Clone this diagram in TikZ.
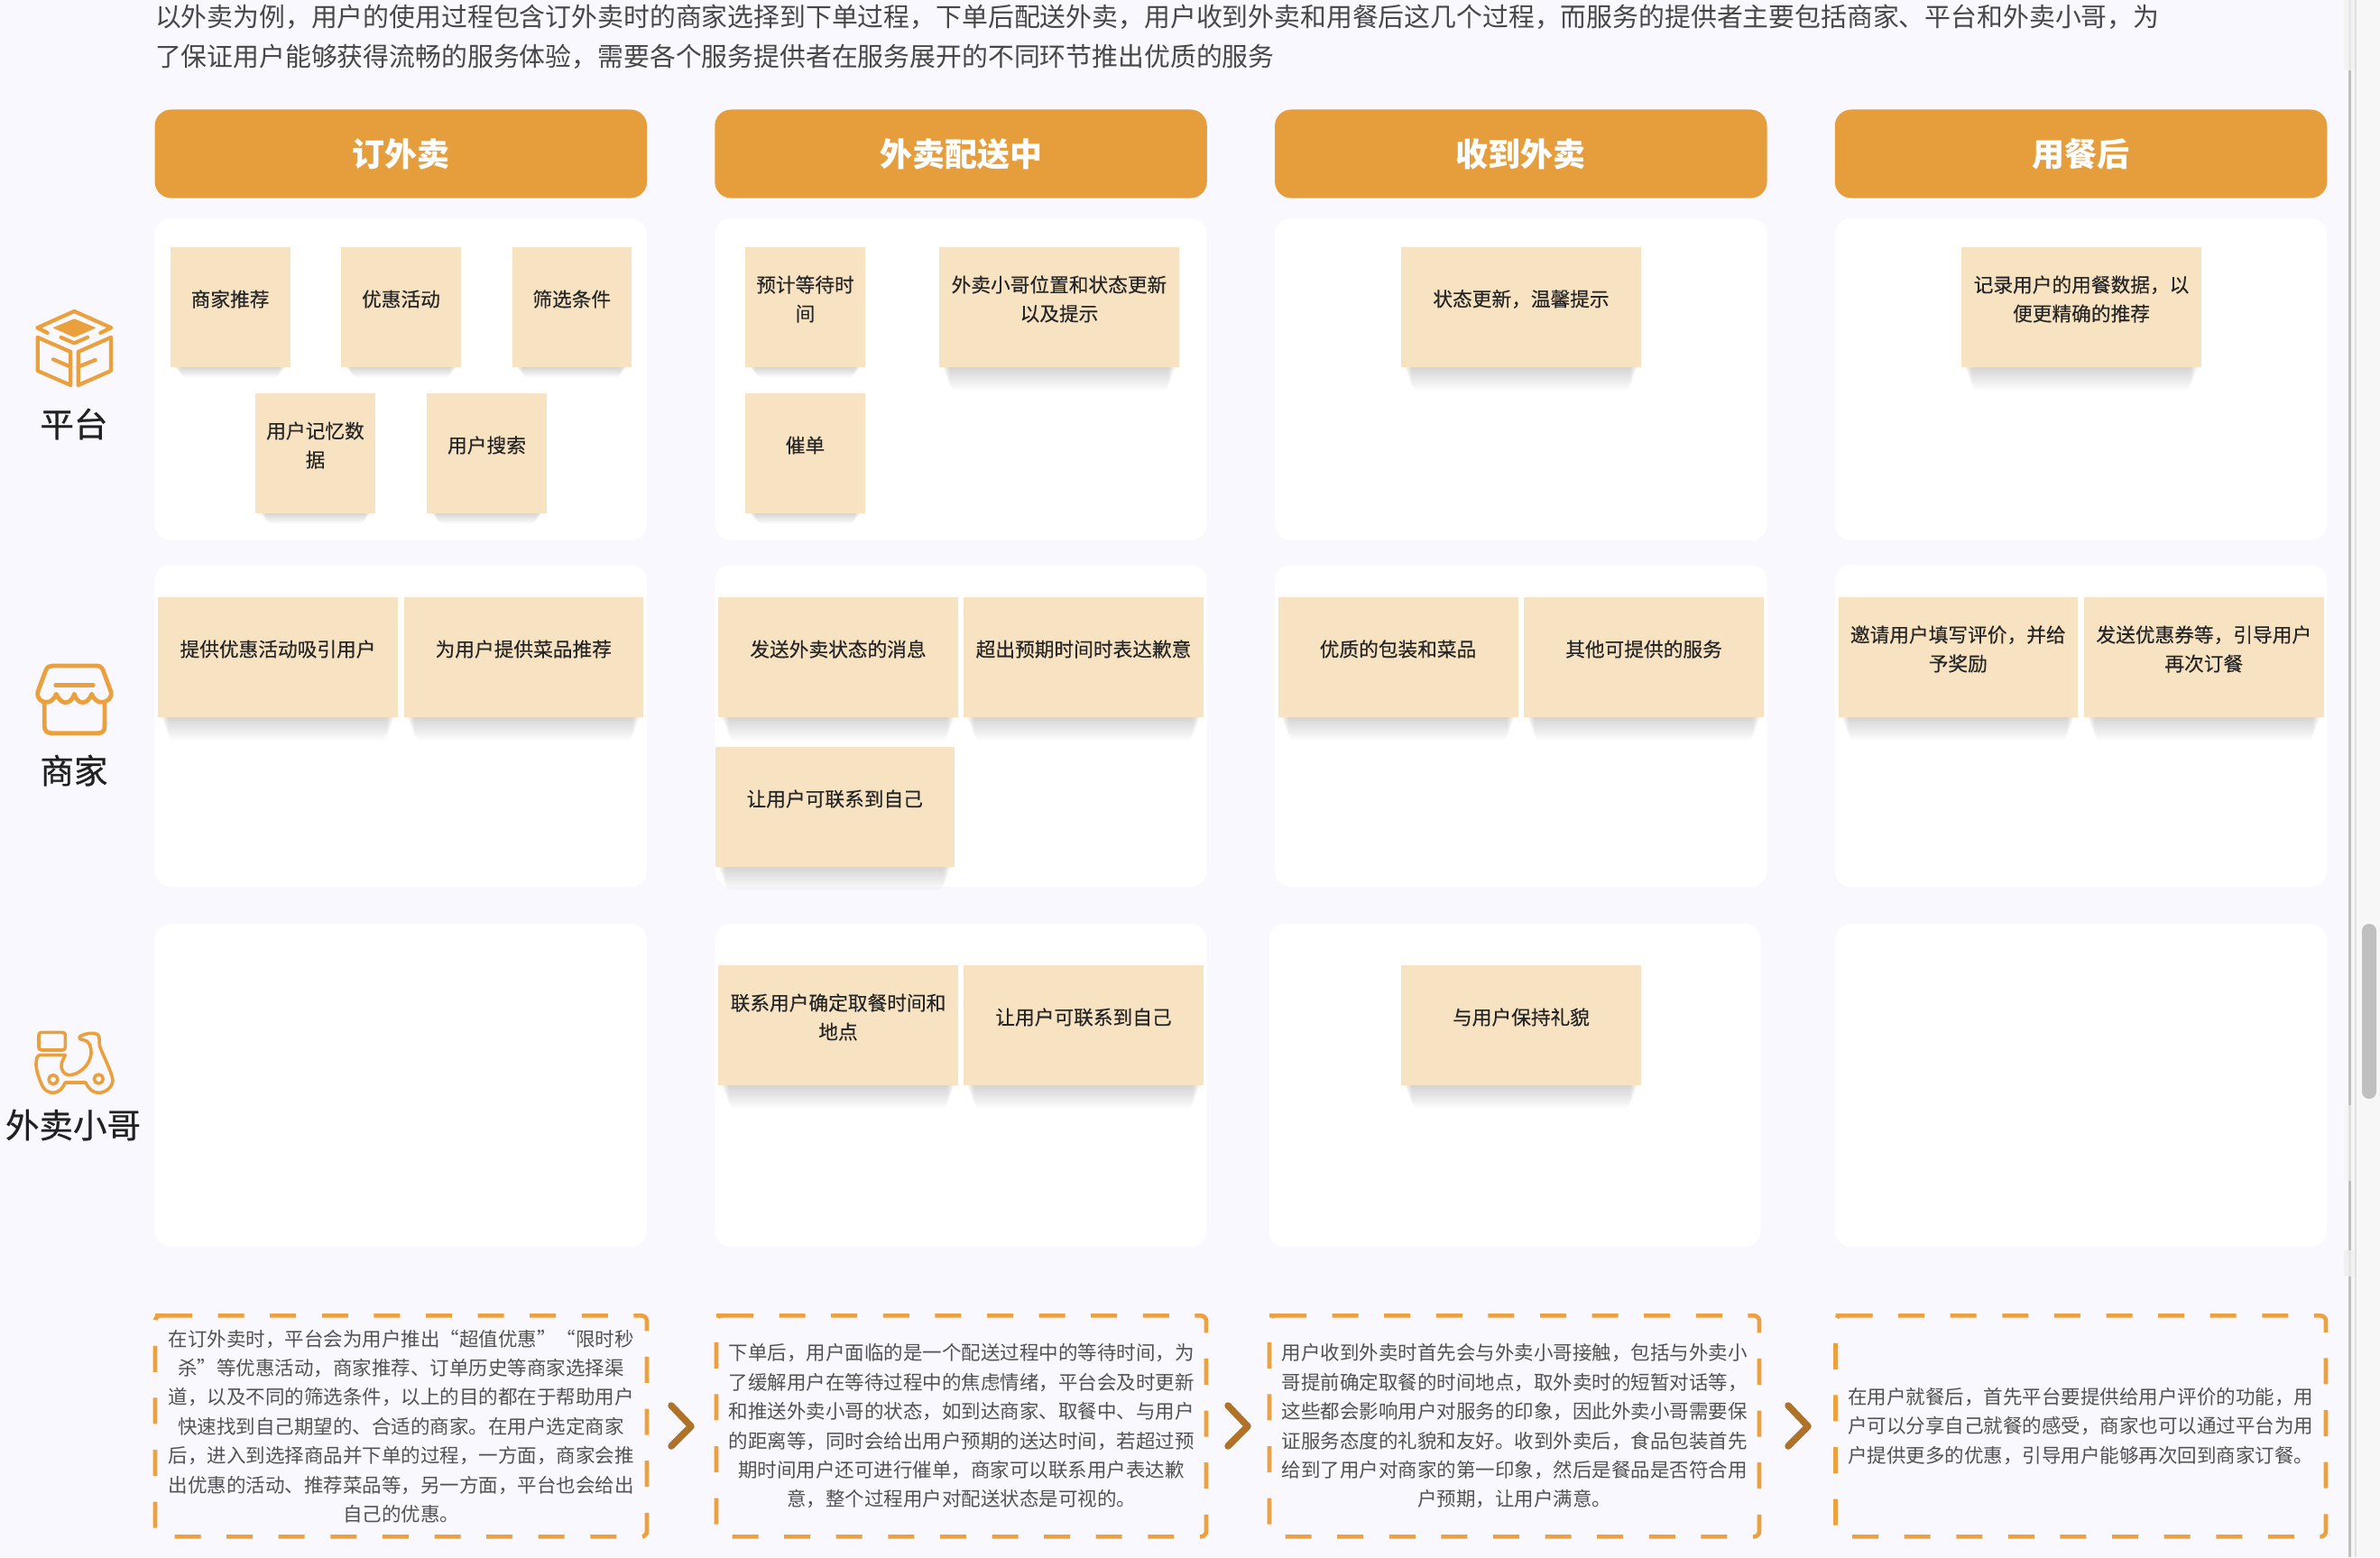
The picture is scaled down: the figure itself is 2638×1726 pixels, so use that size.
\documentclass[tikz,border=0pt]{standalone}
\usepackage{fontspec}
\setmainfont{Noto Sans CJK SC}
\newfontfamily\stkfont{Noto Sans CJK SC}[FakeBold=0.25]
\newfontfamily\lblfont{Noto Sans CJK SC}[FakeBold=0.6]
\usetikzlibrary{calc}
\def\fc{\char"FF0C\relax}
\definecolor{pagebg}{HTML}{F9F8FF}
\definecolor{headbg}{HTML}{E69E3C}
\definecolor{dashc}{HTML}{ECA140}
\definecolor{stickbg}{HTML}{F7E2C2}
\definecolor{chev}{HTML}{AE7329}
\definecolor{icono}{HTML}{EBA03E}
\tikzset{
  plain/.style={inner sep=0pt,outer sep=0pt},
  header/.style={plain,fill=headbg,rounded corners=18pt,text=white,font=\fontsize{36}{40}\selectfont\bfseries},
  panel/.style={plain,fill=white,rounded corners=18pt},
  sticky/.style={plain,fill=stickbg},
  sticktext/.style={plain,align=center,text=black!85,font=\fontsize{21.7}{32}\selectfont\stkfont},
  desc/.style={plain,align=center,text=black!68,font=\fontsize{21.5}{32.4}\selectfont},
  intro/.style={plain,anchor=base west,text=black!72,font=\fontsize{28.85}{40}\selectfont},
  rowlabel/.style={plain,text=black!87,font=\fontsize{37.5}{42}\selectfont\lblfont},
  dashbox/.style={draw=dashc,line width=4.6pt,rounded corners=6pt,dash pattern=on 29pt off 28.6pt},
  chevron/.style={draw=chev,line width=7.5pt,line cap=round,line join=round},
  iconline/.style={draw=icono,line cap=round,line join=round,fill=none},
}
% panel: name, x0, x1, y0, y1
\newcommand{\boxat}[6]{\node[#6,minimum width={(#3-#2)*1pt},minimum height={(#5-#4)*1pt}] (#1) at ({(#2+#3)/2},{(#4+#5)/2}) {};}
% sticky: name, x0, x1, y0, y1, shadow depth, text
\newcommand{\stk}[7]{%
  \foreach \k in {1,...,14}{\fill[black,opacity=.011,rounded corners=7pt] ({#2+2+\k*0.7},{#5-8}) rectangle ({#3-2-\k*0.7},{#5+#6*\k/14});}
  \boxat{#1}{#2}{#3}{#4}{#5}{sticky}
  \node[sticktext] (#1t) at ([yshift=9pt]#1.center) {#7};
}
% dashed description: name, x0, x1, text
\newcommand{\descbox}[4]{%
  \draw[dashbox] ({#2+6},1458.3) -- (#3,1458.3) -- (#3,1703.3) -- (#2,1703.3) -- (#2,1458.3) -- cycle;
  \node[desc] (#1) at ({(#2+#3)/2},1581) {#4};
}
\begin{document}
\begin{tikzpicture}[x=1pt,y=-1pt]
\useasboundingbox (0,0) rectangle (2638,1726);
\fill[pagebg] (0,0) rectangle (2598,1726);
% window edge and scroll bar
\fill[pagebg] (2598,0) rectangle (2603,1726);
\fill[black!3] (2611,0) rectangle (2638,1726);
\fill[white!96!black] (2606,0) rectangle (2610,1726);
\fill[black!25] (2603,0) rectangle (2606,1726);
\fill[black!12] (2610,0) rectangle (2612,1726);
\fill[black!5,opacity=.8] (2598,0) rectangle (2610,78);
\fill[black!4,opacity=.6] (2598,1225) rectangle (2610,1309);
\fill[black!6,opacity=.8] (2598,1386) rectangle (2610,1415);
\fill[black!25,rounded corners=8pt] (2618,1024) rectangle (2634,1218);
% intro
\node[intro] (intro1) at (172,29.5) {以外卖为例\fc 用户的使用过程包含订外卖时的商家选择到下单过程\fc 下单后配送外卖\fc 用户收到外卖和用餐后这几个过程\fc 而服务的提供者主要包括商家、平台和外卖小哥\fc 为};
\node[intro] (intro2) at (172,73.5) {了保证用户能够获得流畅的服务体验\fc 需要各个服务提供者在服务展开的不同环节推出优质的服务};
% headers
\node[header,minimum width=545.5pt,minimum height=98pt] (h1) at (444.3,170.5) {订外卖};
\node[header,minimum width=545.5pt,minimum height=98pt] (h2) at (1065,170.5) {外卖配送中};
\node[header,minimum width=545.5pt,minimum height=98pt] (h3) at (1685.8,170.5) {收到外卖};
\node[header,minimum width=545.5pt,minimum height=98pt] (h4) at (2306.5,170.5) {用餐后};
% panels
\boxat{p11}{171.5}{717}{242}{599}{panel}
\boxat{p12}{792.5}{1337.5}{242}{599}{panel}
\boxat{p13}{1413}{1958.5}{242}{599}{panel}
\boxat{p14}{2034}{2579}{242}{599}{panel}
\boxat{p21}{171.5}{717}{626}{983}{panel}
\boxat{p22}{792.5}{1337.5}{626}{983}{panel}
\boxat{p23}{1413}{1958.5}{626}{983}{panel}
\boxat{p24}{2034}{2579}{626}{983}{panel}
\boxat{p31}{171.5}{717}{1024}{1382}{panel}
\boxat{p32}{792.5}{1337.5}{1024}{1382}{panel}
\boxat{p33}{1406.5}{1951.5}{1024}{1382}{panel}
\boxat{p34}{2034}{2579}{1024}{1382}{panel}
% row 1
\stk{a1}{188.7}{321.5}{274}{407}{12}{商家推荐}
\stk{a2}{378}{511}{274}{407}{12}{优惠活动}
\stk{a3}{567.5}{700}{274}{407}{12}{筛选条件}
\stk{a4}{283}{416}{436}{569}{12}{用户记忆数\\据}
\stk{a5}{473}{606}{436}{569}{12}{用户搜索}
\stk{b1}{826}{959}{274}{407}{12}{预计等待时\\间}
\stk{b2}{1041}{1307}{274}{407}{26}{外卖小哥位置和状态更新\\以及提示}
\stk{b3}{826}{959}{436}{569}{12}{催单}
\stk{c1}{1553}{1819}{274}{407}{26}{状态更新\fc 温馨提示}
\stk{d1}{2174}{2440}{274}{407}{26}{记录用户的用餐数据\fc 以\\便更精确的推荐}
% row 2
\stk{e1}{175}{441}{662}{795}{26}{提供优惠活动吸引用户}
\stk{e2}{447.5}{713}{662}{795}{26}{为用户提供菜品推荐}
\stk{f1}{796}{1062}{662}{795}{26}{发送外卖状态的消息}
\stk{f2}{1068}{1334}{662}{795}{26}{超出预期时间时表达歉意}
\stk{f3}{792.5}{1058}{828}{961}{26}{让用户可联系到自己}
\stk{g1}{1416.5}{1682.5}{662}{795}{26}{优质的包装和菜品}
\stk{g2}{1689}{1955}{662}{795}{26}{其他可提供的服务}
\stk{k1}{2037.5}{2303}{662}{795}{26}{邀请用户填写评价\fc 并给\\予奖励}
\stk{k2}{2310}{2575.5}{662}{795}{26}{发送优惠券等\fc 引导用户\\再次订餐}
% row 3
\stk{m1}{796}{1062}{1070}{1203}{26}{联系用户确定取餐时间和\\地点}
\stk{m2}{1068}{1334}{1070}{1203}{26}{让用户可联系到自己}
\stk{n1}{1553}{1819}{1070}{1203}{26}{与用户保持礼貌}
% descriptions
\descbox{t1}{172}{717}{在订外卖时\fc 平台会为用户推出“超值优惠”“限时秒\\杀”等优惠活动\fc 商家推荐、订单历史等商家选择渠\\道\fc 以及不同的筛选条件\fc 以上的目的都在于帮助用户\\快速找到自己期望的、合适的商家。在用户选定商家\\后\fc 进入到选择商品并下单的过程\fc 一方面\fc 商家会推\\出优惠的活动、推荐菜品等\fc 另一方面\fc 平台也会给出\\自己的优惠。}
\descbox{t2}{794}{1337}{下单后\fc 用户面临的是一个配送过程中的等待时间\fc 为\\了缓解用户在等待过程中的焦虑情绪\fc 平台会及时更新\\和推送外卖小哥的状态\fc 如到达商家、取餐中、与用户\\的距离等\fc 同时会给出用户预期的送达时间\fc 若超过预\\期时间用户还可进行催单\fc 商家可以联系用户表达歉\\意\fc 整个过程用户对配送状态是可视的。}
\descbox{t3}{1407}{1950}{用户收到外卖时首先会与外卖小哥接触\fc 包括与外卖小\\哥提前确定取餐的时间地点\fc 取外卖时的短暂对话等\fc \\这些都会影响用户对服务的印象\fc 因此外卖小哥需要保\\证服务态度的礼貌和友好。收到外卖后\fc 食品包装首先\\给到了用户对商家的第一印象\fc 然后是餐品是否符合用\\户预期\fc 让用户满意。}
\descbox{t4}{2034.5}{2578}{在用户就餐后\fc 首先平台要提供给用户评价的功能\fc 用\\户可以分享自己就餐的感受\fc 商家也可以通过平台为用\\户提供更多的优惠\fc 引导用户能够再次回到商家订餐。}
% chevrons
\draw[chevron] (744,1558) -- (766,1581) -- (744,1603);
\draw[chevron] (1361,1558) -- (1383,1581) -- (1361,1603);
\draw[chevron] (1982,1558) -- (2004,1581) -- (1982,1603);
% row labels
\node[rowlabel] (lb1) at (82,470) {平台};
\node[rowlabel] (lb2) at (82,854) {商家};
\node[rowlabel] (lb3) at (81,1247) {外卖小哥};
% icon: platform
\begin{scope}[shift={(0pt,-300pt)},x=.3333pt,y=-.3333pt]
  \fill[icono,rounded corners=1pt] (247,160) -- (320,190) -- (247,222) -- (175,190) -- cycle;
  \draw[iconline,line width=4.2pt] (158,207) -- (124,190) -- (247,135) -- (370,190) -- (334,207);
  \draw[iconline,line width=4.2pt] (203,222) -- (247,241) -- (291,222);
  \draw[iconline,line width=4.2pt] (125,222) -- (235,270) -- (235,381) -- (125,333) -- cycle;
  \draw[iconline,line width=4.2pt] (369,222) -- (260,270) -- (260,381) -- (369,333) -- cycle;
  \draw[iconline,line width=4.2pt] (177,295) -- (235,320);
  \draw[iconline,line width=4.2pt] (317,297) -- (260,320);
\end{scope}
% icon: shop
\begin{scope}[shift={(0pt,-700pt)},x=.3333pt,y=-.3333pt]
  \draw[iconline,line width=4.8pt] (148,235) -- (148,315) .. controls (148,332) and (158,338) .. (172,338) -- (325,338) .. controls (340,338) and (348,332) .. (348,315) -- (348,235);
  \draw[iconline,line width=4.8pt] (126,200) -- (152,130) .. controls (157,117) and (165,114) .. (175,114) -- (320,114) .. controls (332,114) and (338,117) .. (343,130) -- (369,200)
    .. controls (375,222) and (352,238) .. (335,235) .. controls (322,234) and (310,222) .. (305,208)
    .. controls (298,225) and (288,236) .. (275,236) .. controls (262,236) and (252,225) .. (247,208)
    .. controls (242,225) and (232,236) .. (218,236) .. controls (205,236) and (195,225) .. (187,208)
    .. controls (182,222) and (170,234) .. (158,235) .. controls (140,238) and (120,222) .. (126,200) -- cycle;
  \draw[iconline,line width=4.8pt] (185,178) -- (310,178);
\end{scope}
% icon: rider
\begin{scope}[shift={(0pt,-1110pt)},x=.3333pt,y=-.3333pt]
  \draw[iconline,line width=3.6pt,rounded corners=3pt] (129,103) rectangle (217,162);
  \draw[iconline,line width=3.6pt] (217,178) -- (135,178) .. controls (122,178) and (120,195) .. (120,212) .. controls (122,235) and (128,250) .. (135,268)
    .. controls (145,295) and (160,304) .. (177,304) .. controls (195,304) and (208,290) .. (217,270) -- (285,270)
    .. controls (295,292) and (310,304) .. (328,304) .. controls (350,304) and (375,285) .. (375,262)
    .. controls (372,235) and (345,185) .. (332,150) .. controls (328,135) and (334,118) .. (325,110)
    .. controls (312,102) and (285,106) .. (268,115) .. controls (258,122) and (268,128) .. (278,128)
    .. controls (298,130) and (305,155) .. (303,175) .. controls (298,215) and (260,245) .. (230,245)
    .. controls (212,245) and (200,225) .. (205,205) -- (217,178);
  \draw[iconline,line width=3.6pt] (177,260) circle[radius=5pt];
  \draw[iconline,line width=3.6pt] (328,258) circle[radius=5pt];
\end{scope}
\end{tikzpicture}
\end{document}
